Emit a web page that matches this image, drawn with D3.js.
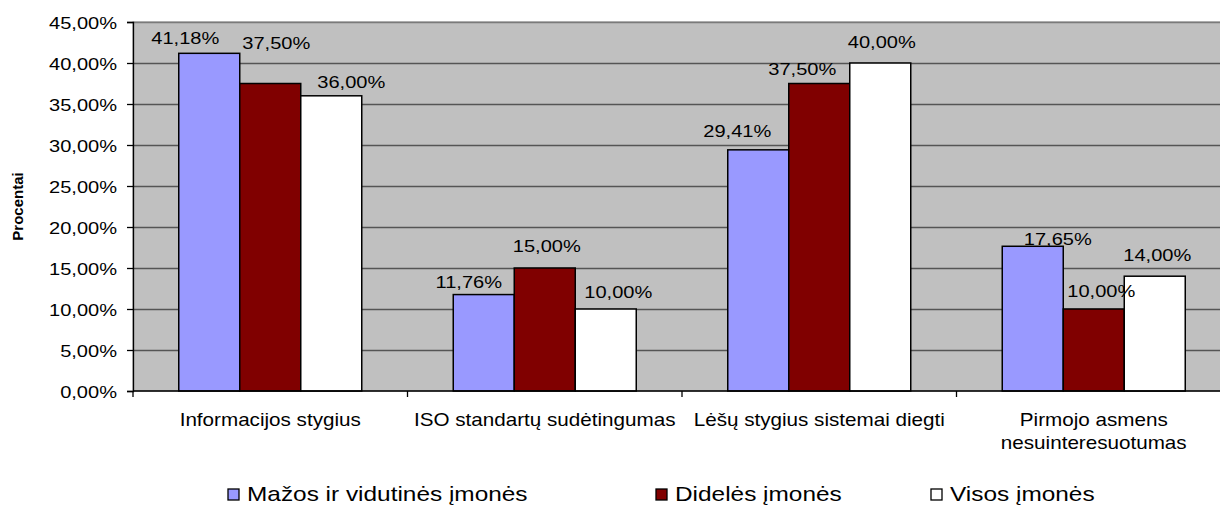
<!DOCTYPE html>
<html>
<head>
<meta charset="utf-8">
<script src="https://cdn.jsdelivr.net/npm/d3@7"></script>
<style>
  html, body { margin: 0; padding: 0; background: #ffffff; }
  svg { display: block; font-family: "Liberation Sans", Arial, sans-serif; }
</style>
</head>
<body>
<svg id="chart" width="1220" height="506"></svg>
<script>
// Categories (x axis) and series
const categories = [
  ["Informacijos stygius"],
  ["ISO standartų sudėtingumas"],
  ["Lėšų stygius sistemai diegti"],
  ["Pirmojo asmens", "nesuinteresuotumas"]
];
const seriesNames = ["Mažos ir vidutinės įmonės", "Didelės įmonės", "Visos įmonės"];
const smeValues   = [41.18, 11.76, 29.41, 17.65];
const largeValues = [37.50, 15.00, 37.50, 10.00];
const allValues   = [36.00, 10.00, 40.00, 14.00];
const yTicks = [0, 5, 10, 15, 20, 25, 30, 35, 40, 45];
const yTitle = "Procentai";

// Data-label nudges (px) so the labels sit as in the original layout
const labelDx  = [[-24, -15, -21, 25], [6, 2, -17, 7.5], [20, 12.5, 1.5, 2.5]];
const labelGap = [[9, 6.6, 12.5, 1], [35, 16, 8.5, 11.7], [7.7, 10.7, 15.3, 15.5]];

const seriesValues = [smeValues, largeValues, allValues];
const seriesColors = ["#9999ff", "#800000", "#ffffff"];

const fmt = v => v.toFixed(2).replace(".", ",") + "%";
const svg = d3.select("#chart");

const plot = { left: 133, top: 22, bottom: 391, width: 1098 };
const STRETCH = 1.18;

const x0 = d3.scaleBand()
  .domain(d3.range(categories.length))
  .range([plot.left, plot.left + plot.width])
  .paddingInner(1 / 3)
  .paddingOuter(1 / 6);
const x1 = d3.scaleBand()
  .domain(d3.range(seriesNames.length))
  .range([0, x0.bandwidth()])
  .padding(0);
const y = d3.scaleLinear().domain([0, 45]).range([plot.bottom, plot.top]);

// Horizontally stretched text helper
function addText(g, str, x, yy, anchor, size, weight, stretch) {
  return g.append("text")
    .attr("transform", `translate(${x},${yy}) scale(${stretch || STRETCH},1)`)
    .attr("text-anchor", anchor)
    .attr("font-size", size)
    .attr("font-weight", weight || "normal")
    .attr("fill", "#000")
    .text(str);
}

// Plot background
svg.append("rect")
  .attr("x", plot.left).attr("y", plot.top)
  .attr("width", plot.width).attr("height", plot.bottom - plot.top)
  .attr("fill", "#c0c0c0")
  .attr("stroke", "#808080").attr("stroke-width", 1);

// Gridlines
svg.append("g")
  .selectAll("line")
  .data(yTicks.filter(t => t > 0))
  .join("line")
  .attr("x1", plot.left).attr("x2", plot.left + plot.width)
  .attr("y1", d => y(d) + 0.5).attr("y2", d => y(d) + 0.5)
  .attr("stroke", d => d === 45 ? "#7a7a7a" : "#555555")
  .attr("stroke-width", 1.3);

// Bars
const groups = svg.append("g")
  .selectAll("g")
  .data(seriesValues)
  .join("g")
  .attr("fill", (d, i) => seriesColors[i]);

groups.selectAll("rect")
  .data((vals, s) => vals.map((v, c) => ({ v, c, s })))
  .join("rect")
  .attr("x", d => x0(d.c) + x1(d.s))
  .attr("y", d => y(d.v))
  .attr("width", x1.bandwidth())
  .attr("height", d => y(0) - y(d.v))
  .attr("stroke", "#000")
  .attr("stroke-width", 1.5);

// Value labels
const labels = svg.append("g");
seriesValues.forEach((vals, s) => {
  vals.forEach((v, c) => {
    const cx = x0(c) + x1(s) + x1.bandwidth() / 2 + labelDx[s][c];
    addText(labels, fmt(v), cx, y(v) - labelGap[s][c], "middle", 17);
  });
});

// Y axis
const yAxis = d3.axisLeft(y)
  .tickValues(yTicks)
  .tickSize(6)
  .tickPadding(10)
  .tickFormat(fmt);
const yg = svg.append("g")
  .attr("transform", `translate(${plot.left},0)`)
  .call(yAxis);
yg.select(".domain").attr("stroke", "#000").attr("stroke-width", 1.3);
yg.selectAll(".tick line").attr("stroke", "#000").attr("stroke-width", 1.3);
yg.selectAll(".tick text")
  .attr("font-size", 17)
  .attr("font-family", "Liberation Sans, Arial, sans-serif")
  .attr("fill", "#000")
  .attr("dy", "0.36em")
  .attr("transform", function () {
    const xx = +d3.select(this).attr("x");
    d3.select(this).attr("x", 0);
    return `translate(${xx},0) scale(${STRETCH},1)`;
  });

// X axis line and category ticks
svg.append("line")
  .attr("x1", plot.left).attr("x2", plot.left + plot.width)
  .attr("y1", plot.bottom).attr("y2", plot.bottom)
  .attr("stroke", "#000").attr("stroke-width", 1.3);
svg.append("g")
  .selectAll("line")
  .data(d3.range(categories.length + 1))
  .join("line")
  .attr("x1", i => plot.left + i * x0.step())
  .attr("x2", i => plot.left + i * x0.step())
  .attr("y1", plot.bottom).attr("y2", plot.bottom + 6)
  .attr("stroke", "#000").attr("stroke-width", 1.3);

// Category labels
const catG = svg.append("g");
categories.forEach((lines, c) => {
  const cx = x0(c) + x0.bandwidth() / 2;
  lines.forEach((ln, k) => addText(catG, ln, cx, 426 + k * 23, "middle", 17.5));
});

// Y axis title
svg.append("text")
  .attr("transform", `translate(23,${(plot.top + plot.bottom) / 2}) rotate(-90)`)
  .attr("text-anchor", "middle")
  .attr("font-size", 15)
  .attr("font-weight", "bold")
  .text(yTitle);

// Legend
const legendX = [228, 656, 931];
const legend = svg.append("g");
seriesNames.forEach((name, i) => {
  legend.append("rect")
    .attr("x", legendX[i]).attr("y", 489)
    .attr("width", 11).attr("height", 11)
    .attr("fill", seriesColors[i])
    .attr("stroke", "#000").attr("stroke-width", 1.3);
  addText(legend, name, legendX[i] + 19, 501, "start", 20, "normal", 1.22);
});
</script>
</body>
</html>
